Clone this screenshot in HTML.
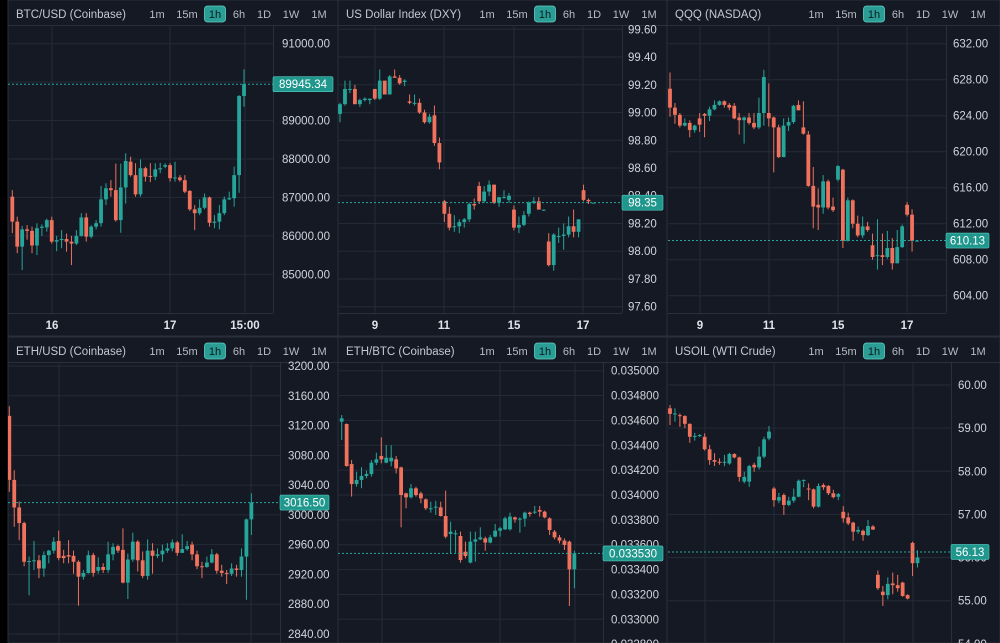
<!DOCTYPE html>
<html><head><meta charset="utf-8"><title>Multi-chart</title>
<style>
html,body{margin:0;padding:0;background:#000;}
svg{display:block;font-family:"Liberation Sans",sans-serif;}
</style></head>
<body>
<svg id="root" width="1000" height="643" viewBox="0 0 1000 643"></svg>
<script>
// ---------- DATA ----------
const btcOpen=[87020,86370,85720,86170,86130,85750,86210,86220,86410,85850,85890,85920,85850,85800,86000,86480,85980,86240,86330,86950,87240,87190,86410,87260,87930,87580,87080,87760,87560,87540,87730,87800,87840,87500,87520,87450,87170,86690,86590,86730,87000,86340,86370,86590,86950,86980,87580,89640];
const btcHigh=[87190,86500,86260,86280,86240,86330,86300,86450,86500,86000,86150,86060,86000,86150,86590,86590,86280,86410,87300,87370,87450,87880,87880,88150,88060,87890,87990,87800,87890,87890,87900,87890,87890,87930,87580,87580,87190,86800,86950,87100,87020,86540,86800,87020,87150,87800,89660,90330];
const btcLow=[86070,85550,85110,85900,85550,85500,86000,86110,85800,85600,85680,85590,85240,85760,85980,85850,85940,86170,86240,86800,87020,86370,86080,86840,87540,87020,87020,87410,87400,87450,87630,87760,87410,87410,87410,87110,86650,86150,86540,86690,86240,86200,86170,86540,86930,86760,87120,89360];
const btcClose=[86370,85720,86170,86130,85750,86200,86240,86410,85850,85890,85920,85850,85800,86000,86480,85980,86240,86330,86950,87240,87190,86410,87260,87950,87580,87080,87760,87540,87540,87730,87760,87840,87500,87520,87450,87150,86690,86590,86730,87000,86340,86370,86590,86950,86980,87580,89640,89945];
const btcTicks=[91000,90000,89000,88000,87000,86000,85000];
const btcTimeLabels=["16","17","15:00"];
const btcLast=89945.34;

const dxyOpen=[98.99,99.06,99.17,99.17,99.06,99.09,99.09,99.17,99.10,99.23,99.13,99.26,99.25,99.22,99.08,99.07,99.07,99.00,98.93,98.98,98.78,98.36,98.27,98.18,98.18,98.21,98.23,98.34,98.47,98.36,98.43,98.48,98.35,98.39,98.37,98.30,98.17,98.19,98.27,98.35,98.36,98.30,98.07,97.90,98.11,98.11,98.12,98.18,98.14,98.44,98.37,98.35];
const dxyHigh=[99.07,99.23,99.23,99.20,99.10,99.11,99.10,99.17,99.31,99.23,99.27,99.31,99.27,99.24,99.13,99.13,99.10,99.02,98.99,99.05,98.82,98.37,98.32,98.26,98.23,98.24,98.35,98.38,98.50,98.47,98.51,98.48,98.39,98.44,98.42,98.33,98.25,98.29,98.36,98.39,98.39,98.30,98.13,98.13,98.17,98.20,98.25,98.30,98.23,98.48,98.38,98.35];
const dxyLow=[98.93,99.05,99.14,99.06,99.04,99.08,99.06,99.09,99.09,99.13,99.13,99.25,99.20,99.19,99.06,99.05,98.99,98.92,98.92,98.76,98.59,98.21,98.15,98.14,98.13,98.17,98.21,98.30,98.34,98.35,98.40,98.34,98.32,98.38,98.35,98.15,98.13,98.18,98.25,98.34,98.30,98.29,97.89,97.86,98.06,98.01,98.10,98.10,98.10,98.36,98.34,98.35];
const dxyClose=[99.06,99.17,99.17,99.06,99.09,99.10,99.10,99.10,99.23,99.13,99.26,99.25,99.21,99.23,99.07,99.07,99.00,98.93,98.97,98.78,98.64,98.27,98.17,98.18,98.21,98.23,98.34,98.33,98.36,98.43,98.48,98.35,98.39,98.39,98.40,98.17,98.19,98.26,98.35,98.36,98.30,98.30,97.90,98.12,98.11,98.12,98.18,98.14,98.23,98.37,98.36,98.35];
const dxyTicks=[99.6,99.4,99.2,99.0,98.8,98.6,98.4,98.2,98.0,97.8,97.6];
const dxyTimeLabels=["9","11","15","17"];
const dxyLast=98.35;

const qqqOpen=[627.0,624.9,624.1,622.9,623.2,622.4,623.7,624.2,624.0,624.7,625.2,625.6,625.2,625.1,623.8,623.5,623.8,623.2,622.7,624.3,624.3,623.8,622.7,619.4,622.9,623.3,625.2,622.7,621.9,616.2,614.1,613.8,616.7,613.9,616.9,618.0,610.1,614.6,612.0,610.7,611.7,609.6,608.4,608.5,608.3,609.3,607.6,609.4,614.1,613.0,610.1];
const qqqHigh=[628.8,625.4,624.3,623.7,623.5,623.0,624.3,624.3,625.0,625.7,625.7,625.7,625.4,625.4,624.3,623.9,624.3,624.3,626.0,629.1,627.6,623.9,623.0,623.7,623.8,625.2,625.7,625.6,622.3,618.3,615.9,617.4,616.9,614.9,618.5,618.1,614.9,614.7,612.9,612.8,612.2,610.9,612.5,610.9,611.2,610.4,611.3,611.9,614.4,613.6,610.2];
const qqqLow=[623.9,623.1,622.7,622.8,621.6,622.1,622.2,621.6,623.4,624.6,625.1,624.9,624.6,623.6,621.9,620.9,623.0,622.5,622.5,622.9,622.8,617.7,619.3,619.4,622.3,623.1,624.6,621.9,616.1,611.5,611.3,613.1,613.6,613.3,616.7,609.3,610.0,611.5,610.5,610.4,611.1,608.0,606.9,607.4,608.1,606.9,607.6,609.3,612.8,608.9,610.0];
const qqqClose=[624.9,624.1,622.9,623.2,622.4,622.9,623.0,624.0,624.7,625.2,625.6,625.2,624.9,623.7,623.5,623.8,623.2,622.7,624.3,628.3,623.7,622.7,619.4,622.9,623.3,625.1,624.6,622.0,616.2,613.9,613.8,616.7,613.8,613.5,618.4,610.1,614.6,612.0,610.7,611.7,611.3,608.3,608.5,608.3,609.3,607.6,609.4,611.7,613.0,610.1,610.13];
const qqqTicks=[632,628,624,620,616,612,608,604];
const qqqTimeLabels=["9","11","15","17"];
const qqqLast=610.13;

const ethOpen=[3133,3047,3010,2989,2937,2938,2939,2928,2946,2952,2965,2945,2946,2945,2937,2917,2922,2946,2925,2930,2926,2947,2958,2953,2909,2940,2964,2939,2918,2952,2945,2947,2952,2955,2963,2949,2954,2960,2947,2931,2930,2936,2947,2925,2922,2921,2928,2926,2944,2994];
const ethHigh=[3146,3060,3018,2991,2944,2965,2946,2951,2953,2970,2979,2953,2966,2952,2939,2926,2952,2949,2943,2935,2964,2962,2960,2982,2948,2976,2966,2951,2967,2962,2955,2960,2962,2967,2965,2974,2965,2964,2952,2937,2944,2954,2949,2933,2926,2935,2933,2955,2995,3029];
const ethLow=[3031,2984,2966,2931,2892,2926,2915,2917,2935,2948,2939,2935,2935,2921,2878,2913,2921,2917,2921,2922,2922,2939,2949,2908,2887,2937,2924,2915,2913,2921,2942,2937,2949,2951,2945,2949,2952,2939,2927,2915,2929,2935,2921,2917,2907,2918,2917,2917,2886,2973];
const ethClose=[3047,3010,2989,2937,2938,2939,2928,2946,2952,2964,2942,2942,2944,2937,2917,2922,2946,2922,2930,2926,2947,2957,2952,2909,2940,2964,2939,2918,2952,2945,2947,2952,2955,2963,2949,2954,2958,2947,2931,2930,2936,2947,2925,2922,2921,2928,2926,2944,2994,3016.5];
const ethTicks=[3200,3160,3120,3080,3040,3000,2960,2920,2880,2840];
const ethLast=3016.50;

// ETH/BTC values in millionths
const ebOpen=[34590,34571,34249,34088,34121,34153,34169,34260,34314,34260,34270,34287,34222,34013,33981,34054,34013,33965,33893,33901,33901,33831,33686,33686,33670,33544,33456,33625,33643,33651,33617,33665,33713,33724,33724,33820,33804,33810,33858,33858,33879,33866,33812,33705,33659,33633,33625,33402];
const ebHigh=[34643,34576,34281,34188,34223,34196,34281,34340,34464,34402,34400,34314,34228,34019,34088,34067,34027,33973,33946,33954,33946,34035,33785,33718,33705,33625,33705,33705,33740,33665,33678,33767,33745,33826,33858,33826,33820,33866,33866,33912,33912,33874,33820,33718,33678,33651,33633,33552];
const ebLow=[34442,34228,33987,34067,34054,34134,34147,34241,34255,34255,34230,34174,33740,33893,33973,33987,33933,33879,33858,33839,33826,33651,33525,33536,33456,33491,33450,33464,33638,33552,33611,33659,33665,33718,33713,33777,33697,33745,33826,33847,33826,33812,33678,33643,33611,33558,33107,33249];
const ebClose=[34617,34233,34088,34121,34153,34169,34260,34287,34287,34300,34300,34214,34000,33981,34054,34000,33973,33893,33893,33906,33831,33665,33705,33692,33477,33509,33625,33643,33659,33617,33659,33713,33732,33812,33826,33804,33810,33858,33847,33866,33866,33820,33718,33659,33633,33598,33402,33530];
const ebTicks=[35000,34800,34600,34400,34200,34000,33800,33600,33400,33200,33000,32800];
const ebLast=33530;

const oilOpen=[59.46,59.33,59.30,59.28,59.10,58.80,58.82,58.80,58.51,58.26,58.22,58.20,58.18,58.40,58.32,57.76,57.76,58.15,58.09,58.34,58.76,57.60,57.32,57.45,57.22,57.32,57.41,57.80,57.60,57.58,57.18,57.68,57.66,57.49,57.41,57.06,56.93,56.81,56.60,56.62,56.52,56.72,55.60,55.21,55.13,55.40,55.36,55.42,55.13,56.34,55.87];
const oilHigh=[59.54,59.46,59.34,59.30,59.11,58.89,58.86,58.88,58.61,58.42,58.30,58.38,58.43,58.42,58.34,57.99,58.15,58.20,58.57,58.80,59.05,57.64,57.50,57.49,57.41,57.60,57.81,57.81,57.72,57.60,57.72,57.72,57.68,57.57,57.50,57.19,57.04,56.83,56.72,56.65,56.87,56.75,55.70,55.34,55.54,55.65,55.60,55.44,55.15,56.37,56.17];
const oilLow=[59.07,59.15,59.03,59.00,58.66,58.71,58.79,58.48,58.15,58.12,58.15,58.12,58.15,58.30,57.76,57.72,57.64,57.99,58.04,58.30,58.72,57.18,57.26,56.99,57.19,57.27,57.40,57.63,57.33,57.14,57.16,57.57,57.45,57.37,57.33,56.81,56.75,56.39,56.55,56.39,56.50,56.64,55.25,54.88,55.03,55.15,55.21,55.09,55.03,55.57,55.77];
const oilClose=[59.33,59.34,59.28,59.10,58.80,58.82,58.84,58.51,58.26,58.22,58.20,58.22,58.40,58.32,57.87,57.87,58.12,58.09,58.34,58.74,58.92,57.33,57.40,57.22,57.32,57.41,57.78,57.80,57.58,57.18,57.66,57.63,57.49,57.40,57.47,56.91,56.79,56.60,56.64,56.52,56.73,56.65,55.29,55.13,55.39,55.36,55.29,55.11,55.05,55.87,56.00];
const oilTicks=[60,59,58,57,56,55,54];
const oilLast=56.13;

const timeframes=["1m","15m","1h","6h","1D","1W","1M"];

// ---------- LAYOUT ----------
const BG="#141924", GRID="#252a37", TEAL="#26a69a", RED="#f0715c", TXT="#d1d4dc";
const NS="http://www.w3.org/2000/svg";
const root=document.getElementById('root');

const charts=[
 {key:'btc',title:'BTC/USD (Coinbase)',panel:[8,0,330,336],plot:[8,25,273,313],ref:[91000,43.7,85000,274.3],
  o:btcOpen,h:btcHigh,l:btcLow,c:btcClose,ticks:btcTicks,dec:2,last:btcLast,x0:12.3,step:4.93,
  times:btcTimeLabels,timeX:[52,170,245],vlines:[52,170,245],labelX:282,tagW:60},
 {key:'dxy',title:'US Dollar Index (DXY)',panel:[338,0,329,336],plot:[338,25,622,313],ref:[99.6,29.3,97.6,306.7],
  o:dxyOpen,h:dxyHigh,l:dxyLow,c:dxyClose,ticks:dxyTicks,dec:2,last:dxyLast,x0:340,step:4.97,
  times:dxyTimeLabels,timeX:[375,444,514,583],vlines:[375,444,514,583],labelX:628,tagW:41},
 {key:'qqq',title:'QQQ (NASDAQ)',panel:[667,0,333,336],plot:[668,25,946,313],ref:[632,43.7,604,295.7],
  o:qqqOpen,h:qqqHigh,l:qqqLow,c:qqqClose,ticks:qqqTicks,dec:2,last:qqqLast,x0:670,step:4.94,
  times:qqqTimeLabels,timeX:[700,769,838,907],vlines:[700,769,838,907],labelX:953,tagW:43},
 {key:'eth',title:'ETH/USD (Coinbase)',panel:[8,337,330,306],plot:[8,362,280,643],ref:[3200,366,2840,634],
  o:ethOpen,h:ethHigh,l:ethLow,c:ethClose,ticks:ethTicks,dec:2,last:ethLast,x0:9.3,step:4.94,
  times:[],timeX:[],vlines:[59,177,251],labelX:288,tagW:49},
 {key:'ethbtc',title:'ETH/BTC (Coinbase)',panel:[338,337,329,306],plot:[338,362,603,643],ref:[35000,370.7,33000,619.3],
  o:ebOpen,h:ebHigh,l:ebLow,c:ebClose,ticks:ebTicks,dec:6,scale:1e-6,last:ebLast,x0:341.7,step:4.95,
  times:[],timeX:[],vlines:[382,500,575],labelX:611,tagW:60},
 {key:'oil',title:'USOIL (WTI Crude)',panel:[667,337,333,306],plot:[668,362,951,643],ref:[60,385,55,600.7],
  o:oilOpen,h:oilHigh,l:oilLow,c:oilClose,ticks:oilTicks,dec:2,last:oilLast,x0:670,step:4.95,
  times:[],timeX:[],vlines:[705,774,844,913],labelX:958,tagW:38}
];

function el(tag,parent){const e=document.createElementNS(NS,tag);parent.appendChild(e);return e;}
function fmt(cfg,v){return ((cfg.scale||1)*v).toFixed(cfg.dec);}

const bg=el('rect',root);


bg.setAttribute('x',0);bg.setAttribute('y',0);bg.setAttribute('width',1000);bg.setAttribute('height',643);bg.setAttribute('fill','#000');

charts.forEach(cfg=>{
  const g=el('g',root);
  
  
  const [px,py,pw,ph]=cfg.panel;
  const [x1,y1,x2,y2]=cfg.plot;
  const [p1,py1,p2,py2]=cfg.ref;
  const yOf=v=>py1+(v-p1)*(py2-py1)/(p2-p1);
  const xOf=i=>cfg.x0+i*cfg.step;

  const pr=el('rect',g);
  
  
  pr.setAttribute('x',px);pr.setAttribute('y',py);pr.setAttribute('width',pw);pr.setAttribute('height',ph);
  pr.setAttribute('fill',BG);pr.setAttribute('stroke','#2a2f3c');pr.setAttribute('stroke-width',1);

  const hy=py+25;
  const hl=el('line',g);
  
  
  hl.setAttribute('x1',px);hl.setAttribute('x2',px+pw);hl.setAttribute('y1',hy+0.5);hl.setAttribute('y2',hy+0.5);hl.setAttribute('stroke','#2a2f3c');
  const t=el('text',g);
  
  
  t.setAttribute('x',px+8);t.setAttribute('y',py+18);t.setAttribute('fill','#c5c8d0');t.setAttribute('font-size','11.5');
  t.textContent=cfg.title;
  const bx=[149,179,207,231,256,283,311];
  timeframes.forEach((tf,k)=>{
    const cx=px+bx[k];
    if(tf==='1h'){
      const r=el('rect',g);
      
      
      r.setAttribute('x',cx-10.5);r.setAttribute('y',py+6);r.setAttribute('width',21);r.setAttribute('height',16);r.setAttribute('rx',3);
      r.setAttribute('fill','#2a9d95');r.setAttribute('stroke','#5fd0c6');r.setAttribute('stroke-width',0.8);
    }
    const b=el('text',g);
    
    
    b.setAttribute('x',cx);b.setAttribute('y',py+18);b.setAttribute('text-anchor','middle');b.setAttribute('font-size','11');
    b.setAttribute('fill',tf==='1h'?'#0d1a1f':'#b8bcc6');
    b.textContent=tf;
  });

  const cp=el('clipPath',g);cp.setAttribute('id','clip-'+cfg.key);
  const cr=el('rect',cp);cr.setAttribute('x',x1);cr.setAttribute('y',y1+1);cr.setAttribute('width',x2-x1);cr.setAttribute('height',y2-y1-1);

  cfg.ticks.forEach(v=>{
    const y=yOf(v);
    if(y<y1||y>y2) return;
    const gl=el('line',g);
    
    
    gl.setAttribute('x1',x1);gl.setAttribute('x2',x2);gl.setAttribute('y1',y);gl.setAttribute('y2',y);gl.setAttribute('stroke',GRID);
  });
  cfg.vlines.forEach(x=>{
    const vl=el('line',g);
    
    
    vl.setAttribute('x1',x);vl.setAttribute('x2',x);vl.setAttribute('y1',y1);vl.setAttribute('y2',y2);vl.setAttribute('stroke',GRID);
  });
  const pb=el('line',g);
  
  
  pb.setAttribute('x1',x2+0.5);pb.setAttribute('x2',x2+0.5);pb.setAttribute('y1',y1);pb.setAttribute('y2',y2);pb.setAttribute('stroke','#2a2f3c');
  if(cfg.times.length){
    const tb=el('line',g);
    
    
    tb.setAttribute('x1',x1);tb.setAttribute('x2',x2);tb.setAttribute('y1',y2+0.5);tb.setAttribute('y2',y2+0.5);tb.setAttribute('stroke','#2a2f3c');
  }

  const cg=el('g',g);
  
  
  cg.setAttribute('clip-path','url(#clip-'+cfg.key+')');
  const n=Math.min(cfg.o.length,cfg.h.length,cfg.l.length,cfg.c.length);
  for(let i=0;i<n;i++){
    const up=cfg.c[i]>=cfg.o[i];
    const col=up?TEAL:RED;
    const x=xOf(i);
    const w=el('line',cg);
    
    
    w.setAttribute('x1',x);w.setAttribute('x2',x);w.setAttribute('y1',yOf(cfg.h[i]));w.setAttribute('y2',yOf(cfg.l[i]));
    w.setAttribute('stroke',col);w.setAttribute('stroke-width',1);
    const yo=yOf(cfg.o[i]),yc=yOf(cfg.c[i]);
    const b=el('rect',cg);
    
    
    b.setAttribute('x',x-1.9);b.setAttribute('width',3.8);
    b.setAttribute('y',Math.min(yo,yc));b.setAttribute('height',Math.max(1,Math.abs(yo-yc)));
    b.setAttribute('fill',col);
  }

  cfg.ticks.forEach(v=>{
    const y=yOf(v);
    if(y<y1-6||y>y2+12||y>655) return;
    const lt=el('text',g);
    
    
    lt.setAttribute('x',cfg.labelX);lt.setAttribute('y',y+4);lt.setAttribute('fill',TXT);lt.setAttribute('font-size','11.5');
    lt.textContent=fmt(cfg,v);
  });

  const ly=yOf(cfg.last);
  const pl=el('line',g);
  
  
  pl.setAttribute('x1',x1);pl.setAttribute('x2',x2);pl.setAttribute('y1',ly);pl.setAttribute('y2',ly);
  pl.setAttribute('stroke',TEAL);pl.setAttribute('stroke-dasharray','2,2');pl.setAttribute('stroke-width',1);
  const tg=el('rect',g);
  
  
  tg.setAttribute('x',x2);tg.setAttribute('y',ly-7.5);tg.setAttribute('width',cfg.tagW);tg.setAttribute('height',15);tg.setAttribute('rx',1.5);
  tg.setAttribute('fill','#1f978d');tg.setAttribute('stroke','#58c9bf');tg.setAttribute('stroke-width',0.6);
  const tt=el('text',g);
  
  
  tt.setAttribute('x',x2+cfg.tagW/2);tt.setAttribute('y',ly+4);tt.setAttribute('text-anchor','middle');tt.setAttribute('fill','#ffffff');tt.setAttribute('font-size','11.5');
  tt.textContent=fmt(cfg,cfg.last);

  cfg.times.forEach((lab,k)=>{
    const tx=el('text',g);
    
    
    tx.setAttribute('x',cfg.timeX[k]);tx.setAttribute('y',y2+16);tx.setAttribute('text-anchor','middle');
    tx.setAttribute('fill','#e0e3ea');tx.setAttribute('font-size','11.5');tx.setAttribute('font-weight','bold');
    tx.textContent=lab;
  });
});
</script>
</body></html>
